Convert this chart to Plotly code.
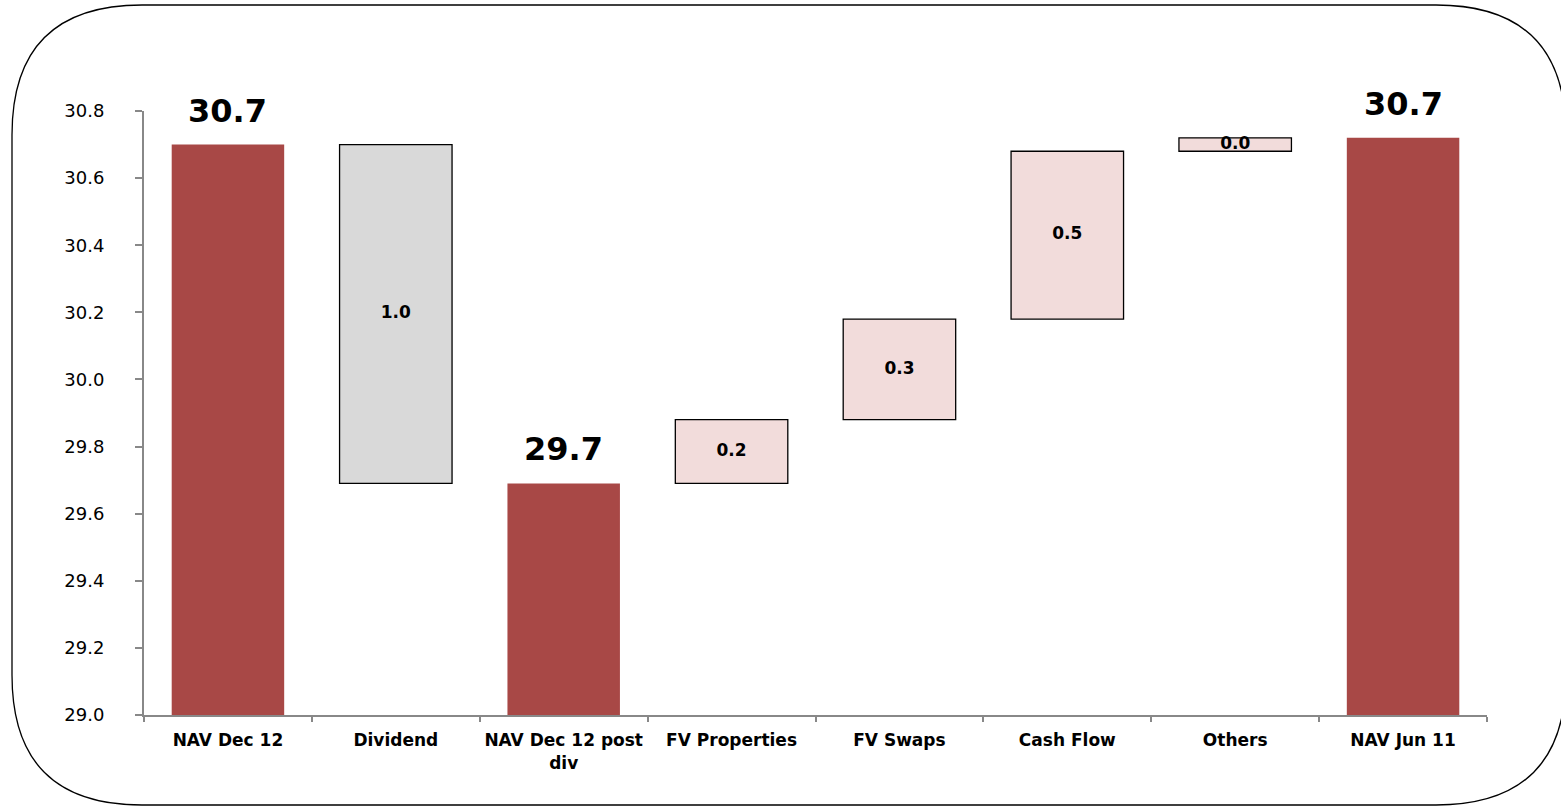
import plotly.graph_objects as go

categories = ["NAV Dec 12", "Dividend", "NAV Dec 12 post<br>div", "FV Properties",
              "FV Swaps", "Cash Flow", "Others", "NAV Jun 11"]
kinds = ["total", "neg", "total", "pos", "pos", "pos", "pos", "total"]
bases = [29.0, 29.69, 29.0, 29.69, 29.88, 30.18, 30.68, 29.0]
tops = [30.70, 30.70, 29.69, 29.88, 30.18, 30.68, 30.72, 30.72]
labels = ["30.7", "1.0", "29.7", "0.2", "0.3", "0.5", "0.0", "30.7"]

colors = {"total": "#A84846", "neg": "#D9D9D9", "pos": "#F2DCDB"}
lines = {"total": 0, "neg": 1.3, "pos": 1.3}

fig = go.Figure()
for k in ["total", "neg", "pos"]:
    idx = [i for i, kk in enumerate(kinds) if kk == k]
    fig.add_trace(go.Bar(
        x=[categories[i] for i in idx],
        y=[tops[i] - bases[i] for i in idx],
        base=[bases[i] for i in idx],
        marker=dict(color=colors[k], line=dict(color="#000000", width=lines[k])),
        width=0.67, showlegend=False, hoverinfo="skip",
    ))

# floating labels in middle
mid_idx = [i for i, kk in enumerate(kinds) if kk != "total"]
fig.add_trace(go.Scatter(
    x=[categories[i] for i in mid_idx],
    y=[(tops[i] + bases[i]) / 2 for i in mid_idx],
    text=[labels[i] for i in mid_idx],
    mode="text", textposition="middle center",
    textfont=dict(family="DejaVu Sans", size=17, color="#000000", weight="bold"),
    showlegend=False, hoverinfo="skip", cliponaxis=False,
))

for i, kk in enumerate(kinds):
    if kk == "total":
        fig.add_annotation(x=categories[i], y=tops[i], text="<b>" + labels[i] + "</b>",
                           showarrow=False, yanchor="bottom", yshift=13,
                           font=dict(family="DejaVu Sans", size=32, color="#000000"))

# rounded border in paper coords
L, R, T, B = 144, 1487, 111, 715
W, H = R - L, B - T
def px(x):
    return (x - L) / W
def py(y):
    return (B - y) / H
x0, x1, y0, y1, r = 12, 1566, 5, 805, 130
path = (f"M {px(x0 + r)},{py(y0)} L {px(x1 - r)},{py(y0)} "
        f"Q {px(x1)},{py(y0)} {px(x1)},{py(y0 + r)} "
        f"L {px(x1)},{py(y1 - r)} Q {px(x1)},{py(y1)} {px(x1 - r)},{py(y1)} "
        f"L {px(x0 + r)},{py(y1)} Q {px(x0)},{py(y1)} {px(x0)},{py(y1 - r)} "
        f"L {px(x0)},{py(y0 + r)} Q {px(x0)},{py(y0)} {px(x0 + r)},{py(y0)} Z")
fig.add_shape(type="path", path=path, xref="paper", yref="paper",
              line=dict(color="#000000", width=1.3), fillcolor="rgba(0,0,0,0)", layer="below")

fig.update_layout(
    width=1561, height=807,
    margin=dict(l=L, r=1561 - R, t=T, b=807 - B),
    plot_bgcolor="#FFFFFF", paper_bgcolor="#FFFFFF",
    barmode="overlay", bargap=0.33,
    font=dict(family="DejaVu Sans", color="#000000"),
)
fig.update_xaxes(
    type="category", categoryorder="array", categoryarray=categories,
    showline=True, linecolor="#888888", linewidth=2,
    ticks="outside", tickson="boundaries", ticklen=5, tickcolor="#888888", tickwidth=1.5,
    tickfont=dict(family="DejaVu Sans", size=17, color="#000000", weight="bold"),
    tickangle=0, automargin=False,
    ticklabelstandoff=9,
    showgrid=False, zeroline=False,
)
fig.update_yaxes(
    range=[29.0, 30.8], dtick=0.2, tickformat=".1f",
    showline=True, linecolor="#888888", linewidth=2,
    ticks="outside", ticklen=7, tickcolor="#888888", tickwidth=1.5,
    tickfont=dict(family="DejaVu Sans", size=18, color="#000000"),
    ticklabelstandoff=27, automargin=False,
    showgrid=False, zeroline=False,
)

fig.write_html("out.html")
